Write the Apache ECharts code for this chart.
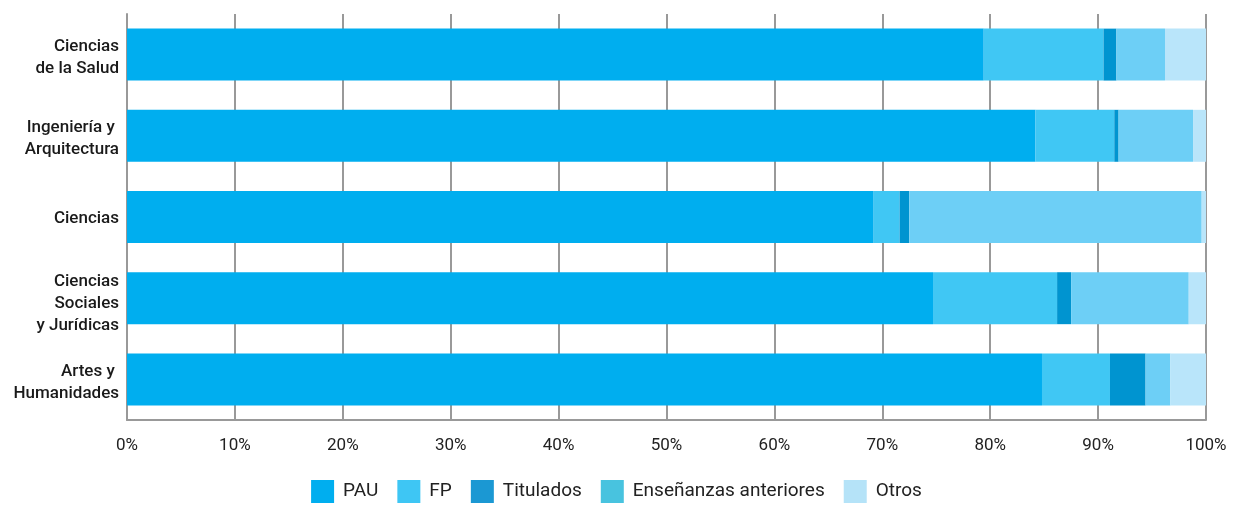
<!DOCTYPE html>
<html><head><meta charset="utf-8">
<script src="https://cdn.jsdelivr.net/npm/echarts@6/dist/echarts.min.js"></script>
<style>html,body{margin:0;padding:0;background:#fff}#c{width:1233px;height:505px}</style>
</head><body><div id="c"></div>
<script>
const categories = ['Ciencias\nde la Salud','Ingeniería y \nArquitectura','Ciencias','Ciencias\nSociales\ny Jurídicas','Artes y \nHumanidades'];
const seriesNames = ['PAU','FP','Titulados','Enseñanzas anteriores','Otros'];
const pau = [79.4, 84.2, 69.2, 74.7, 84.8];
const fp = [11.1, 7.3, 2.4, 11.5, 6.3];
const titulados = [1.2, 0.4, 0.9, 1.3, 3.3];
const anteriores = [4.5, 6.9, 27.1, 10.9, 2.3];
const otros = [3.8, 1.2, 0.4, 1.6, 3.3];
const xTicks = [0,10,20,30,40,50,60,70,80,90,100];

const barColors = ['#00aeef','#40c7f4','#0094d0','#6dcff6','#b9e5fa'];
const legendColors = ['#00aeef','#3ec6f4','#1b98d3','#48c3df','#b5e3f8'];
const values = [pau, fp, titulados, anteriores, otros];

const chart = echarts.init(document.getElementById('c'), null, {renderer:'canvas'});
const font = 'Roboto, "Liberation Sans", Arial, sans-serif';
const labelFormatter = v => {
  const lines = v.split('\n');
  const sp = lines.length > 2 ? 's3' : (lines.length > 1 ? 's2' : 's1');
  return '{' + sp + '| }\n' + lines.map(l => '{a|' + l + '}').join('\n');
};
chart.setOption({
  animation:false,
  backgroundColor:'#ffffff',
  grid:{left:127, right:27, top:14, bottom:85, containLabel:false},
  legend:{
    bottom:-3, left:'center', itemWidth:23, itemHeight:23, itemGap:19,
    textStyle:{fontFamily:font, fontSize:19, color:'#222', padding:[0,0,0,4]},
    data: seriesNames.map((n,i)=>({name:n, icon:'rect', itemStyle:{color:legendColors[i]}}))
  },
  xAxis:{
    type:'value', min:0, max:100, interval:10,
    axisLine:{show:true, lineStyle:{color:'#999', width:2}},
    axisTick:{show:false},
    splitLine:{show:true, lineStyle:{color:'#999', width:2}},
    axisLabel:{formatter: v => xTicks.includes(v) ? v+'%' : '', fontFamily:font, fontSize:17, color:'#222', margin:17}
  },
  yAxis:{
    type:'category', inverse:true, data:categories,
    axisLine:{show:true, lineStyle:{color:'#999', width:2}},
    axisTick:{show:false},
    axisLabel:{
      formatter: labelFormatter, margin:8, align:'right',
      rich:{
        a:{fontFamily:font, fontSize:17, fontWeight:500, color:'#1a1a1a', lineHeight:22, align:'right'},
        s1:{fontSize:2, lineHeight:4},
        s2:{fontSize:2, lineHeight:6},
        s3:{fontSize:2, lineHeight:12}
      }
    }
  },
  series: seriesNames.map((n,i)=>({
    name:n, type:'bar', stack:'total', data:values[i], barCategoryGap:'36%',
    itemStyle:{color:barColors[i]}
  }))
});
</script></body></html>
